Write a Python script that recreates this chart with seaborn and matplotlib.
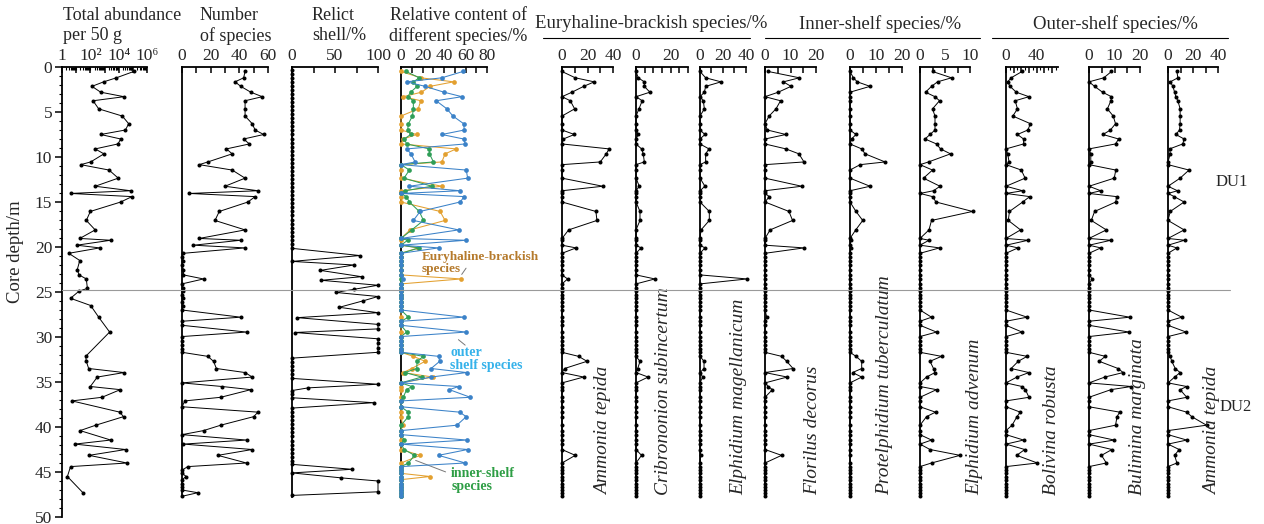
import numpy as np
import pandas as pd
import matplotlib
matplotlib.use("Agg")
import matplotlib.pyplot as plt
import seaborn as sns
from matplotlib.lines import Line2D
from matplotlib.transforms import blended_transform_factory
from matplotlib.ticker import FixedLocator, LogLocator, NullFormatter

# ---------------- data ----------------
sample_depth = [0.5, 1.2, 1.65, 2.15, 2.8, 3.3, 3.75, 4.65, 5.45, 6.3,
                7.0, 7.5, 8.0, 8.55, 9.1, 9.65, 10.55, 10.85, 11.45, 12.35,
                13.25, 13.75, 14.05, 14.4, 15.0, 16.05, 17.05, 18.1, 19.05, 19.25,
                19.8, 20.1, 20.7, 21.5, 22.5, 23.1, 23.55, 24.6, 24.9, 25.7,
                26.5, 27.8, 29.45, 32.15, 32.7, 33.5, 33.95, 34.45, 35.5, 35.85,
                36.7, 37.1, 38.35, 38.85, 39.8, 40.4, 41.45, 41.9, 42.5, 43.15,
                44.0, 44.4, 45.5, 47.3]

barren_depth = [21.1, 22.0, 24.1, 25.3, 26.1, 27.0, 28.25, 28.7, 29.95, 30.4,
                30.85, 31.3, 31.7, 35.1, 37.75, 40.85, 44.8, 45.15, 45.85, 46.3,
                46.7, 47.0, 47.7]

abundance = [115000, 6900, 870, 130, 540, 24000, 155, 390, 18000, 51000,
             30000, 540, 14000, 8900, 220, 910, 105, 21, 2100, 9300,
             220, 71000, 4, 87000, 14000, 100, 52, 220, 18, 2750,
             11, 460, 3, 18, 12, 16, 52, 62, 16, 4,
             105, 390, 2300, 47, 52, 76, 24000, 310, 100, 13000,
             660, 5, 12000, 22000, 240, 19, 2750, 8, 31000, 81,
             39000, 4, 2.4, 30]

n_species = [44, 43, 37, 41, 48, 56, 44, 44, 44, 49,
             51, 57, 43, 47, 31, 35, 18, 12, 35, 44,
             30, 53, 5, 51, 46, 26, 23, 44, 12, 41,
             8, 44, 1, 1, 1, 1, 15, 1, 1, 1,
             1, 41, 45, 18, 22, 24, 44, 49, 28, 48,
             27, 2, 53, 50, 27, 15, 45, 1, 49, 25,
             45, 4, 3, 11]

relict_depth = [0.3, 0.75, 1.2, 1.65, 2.1, 2.55, 3.0, 3.45, 3.9, 4.35,
                4.8, 5.25, 5.7, 6.15, 6.6, 7.05, 7.5, 7.95, 8.4, 8.85,
                9.3, 9.75, 10.2, 10.65, 11.1, 11.55, 12.0, 12.45, 12.9, 13.35,
                13.8, 14.25, 14.7, 15.15, 15.6, 16.05, 16.5, 16.95, 17.4, 17.85,
                18.3, 18.75, 19.2, 19.65, 20.15, 20.95, 21.6, 22.0, 22.6, 23.3,
                23.7, 24.25, 24.7, 25.05, 25.5, 26.0, 26.7, 27.3, 27.85, 28.6,
                29.1, 29.5, 30.2, 30.7, 31.2, 31.7, 32.35, 32.8, 33.25, 33.7,
                34.15, 34.6, 35.25, 35.65, 35.95, 36.35, 36.75, 37.3, 37.9, 38.35,
                38.8, 39.25, 39.7, 40.15, 40.6, 41.05, 41.5, 41.95, 42.4, 42.85,
                43.3, 43.75, 44.15, 44.7, 45.1, 45.65, 46.0, 47.2, 47.6]
relict_pct = [0, 0, 0, 0, 0, 0, 0, 0, 0, 0,
              0, 0, 0, 0, 0, 0, 0, 0, 0, 0,
              0, 0, 0, 0, 0, 0, 0, 0, 0, 0,
              0, 0, 0, 0, 0, 0, 0, 0, 0, 0,
              0, 0, 0, 0, 0, 79, 0, 72, 33, 81,
              34, 100, 72, 51, 100, 82, 55, 100, 6, 100,
              100, 3, 100, 100, 100, 100, 0, 0, 0, 0,
              0, 0, 100, 19, 0, 0, 0, 95, 0, 0,
              0, 0, 0, 0, 0, 0, 0, 0, 0, 0,
              0, 0, 0, 70, 0, 57, 100, 100, 0]

# relative content of groups (%)
outer_pct = [57.6, 38, 5.3, 22.4, 40, 56.7, 32.7, 42.7, 48.3, 58.3,
             58.9, 38, 58.3, 59.8, 5.3, 9.3, 13.1, 0, 60.7, 62,
             7.5, 55, 0, 58.9, 55, 17.8, 11.5, 53.6, 0, 60.4,
             0, 34.9, 0,
             0, 0, 0, 2, 0, 0, 0, 0, 58.3, 60.7,
             35, 36, 28, 61, 28, 53.6, 45, 64.5, 0, 54.5,
             60.7, 52, 0, 61.4, 0, 62, 34.9, 59.8, 0, 0,
             0]
eury_pct = [0, 18.4, 49, 27, 19, 2, 18.4, 16, 0, 0,
            0, 14.6, 2, 0, 51.4, 41, 38, 0, 0, 0,
            38, 0, 0, 0, 0, 36.4, 41, 8.4, 0, 0,
            0, 16, 0,
            0, 0, 0, 56, 0, 0, 0, 0, 0, 0,
            11.5, 22.4, 10, 2, 29.6, 0, 0, 0, 0, 0,
            0, 1.6, 0, 0, 0, 0, 17.8, 0, 0, 27,
            0]
inner_pct = [4.7, 17, 11.5, 15, 9, 6.2, 11.5, 11.5, 10.6, 6.9,
             6.2, 9, 3, 5.3, 26.5, 26.5, 30.2, 0, 7.8, 2.8,
             28.7, 4, 0, 5, 7.8, 17, 20.9, 10, 0, 6.2,
             0, 17, 0,
             0, 0, 0, 0, 0, 0, 0, 0, 6.9, 5.3,
             20.9, 15, 14.6, 3.7, 19.3, 10, 5.3, 2, 0, 6.9,
             6.9, 0, 0, 3, 0, 3, 12.5, 6.9, 0, 0,
             0]

# species (%)
ammonia_tepida_eb = [0, 10.4, 25.3, 17, 7.8, 0, 6.5, 9.9, 0, 0,
                     0, 9.7, 1, 0, 37, 34.7, 30, 0, 0, 0,
                     32, 0, 0, 0, 0, 26.6, 27.4, 5.2, 0, 0,
                     0, 11, 0,
                     0, 0, 0, 4.4, 0, 0, 0, 0, 0, 0,
                     13, 19.6, 2, 0, 17, 0, 0, 0, 0, 0,
                     0, 0, 0, 0, 0, 0, 10.4, 0, 0, 0,
                     0]
cribrononion = [0, 1.3, 4.8, 4.8, 8, 0, 3.6, 1.7, 0, 0,
                0, 1.3, 0, 0, 3.2, 4.2, 4.8, 0, 0, 0,
                1.9, 0, 0, 0, 0, 2.3, 2.3, 0, 0, 0,
                0, 2.9, 0,
                0, 0, 0, 10.9, 0, 0, 0, 0, 0, 0,
                0, 2.3, 1, 0, 7, 0, 0, 0, 0, 0,
                0, 0, 0, 0, 0, 0, 3.2, 0, 0, 0,
                0]
elphidium_magellanicum = [0, 4.9, 18.3, 4.9, 3.8, 0, 2.9, 3.8, 0, 0,
                          0, 4.3, 0, 0, 7.8, 4.9, 4.9, 0, 0, 0,
                          4.3, 0, 0, 0, 0, 8.1, 8.1, 0.9, 0, 0,
                          0, 4.3, 0,
                          0, 0, 0, 41, 0, 0, 0, 0, 0, 0,
                          0, 3.5, 3.5, 0, 2.3, 0, 0, 0, 0, 0,
                          0, 0, 0, 0, 0, 0, 0.6, 0, 0, 0,
                          0]
florilus = [1.3, 13.5, 7.2, 10.2, 5.2, 0, 6.1, 4.3, 1.6, 0,
            0.9, 8.2, 0, 0, 8.2, 13.3, 15.3, 0, 0, 0,
            14.4, 0, 0, 1.7, 0, 9.4, 10.8, 2, 0, 0,
            0, 15.3, 0,
            0, 0, 0, 0, 0, 0, 0, 0, 0.7, 0,
            6.5, 8.5, 11, 0, 8.7, 1.3, 2.9, 0, 0, 0,
            0, 0, 0, 0, 0, 0, 6.5, 0, 0, 0,
            0]
protelphidium = [0, 1.3, 2.8, 7.7, 0, 0, 0, 0, 0, 0,
                 0, 2.3, 0.6, 0, 4.5, 5.8, 13.5, 3.9, 0, 0,
                 7.7, 0, 0, 0, 0, 2.3, 4.9, 2.2, 0, 0.4,
                 0, 0.4, 0,
                 0, 0, 0, 0, 0, 0, 0, 0, 0, 0,
                 2.3, 4.5, 4.5, 1, 4.5, 0, 0, 0, 0, 0,
                 0, 0, 0, 0, 0, 0, 0, 0, 0, 0,
                 0]
elphidium_advenum = [2.5, 6.3, 3.5, 2.3, 1.1, 3.0, 3.9, 2.5, 3.0, 3.0,
                     3.0, 2.0, 1.0, 3.3, 4.1, 6.1, 1.7, 0, 2.5, 0.7,
                     4.0, 2.7, 0, 2.5, 3.2, 10.5, 2.3, 1.8, 0, 1.8,
                     0, 3.9, 0,
                     0, 0, 0, 0, 0, 0, 0, 0, 2.3, 3.3,
                     4.3, 2.0, 2.7, 3.0, 1.3, 0, 3.3, 0, 0, 3.1,
                     1.3, 0, 0, 2.3, 0, 2.0, 8.0, 2.3, 0, 0,
                     0]
bolivina = [21, 6.7, 2.2, 5.3, 13.4, 30, 12, 15, 8.9, 32,
            28.5, 15, 23, 23, 0, 2.2, 4, 0, 20, 25,
            0, 21.8, 0, 31, 21.8, 4.5, 3, 19, 0, 29,
            0, 15.6, 0,
            0, 0, 0, 0, 0, 0, 0, 0, 27.6, 21,
            27.6, 16, 6.7, 30, 14.3, 21, 25.4, 30, 0, 18.7,
            14.3, 8, 0, 23, 0, 24.5, 14, 41, 0, 0,
            0]
bulimina = [8.8, 5.8, 0, 2.2, 5.3, 8.8, 8.6, 7.2, 9.5, 10.4,
            8.4, 5.5, 11.6, 10.4, 0, 0.7, 0.7, 0, 10.5, 9.9,
            0, 4.6, 0, 10.8, 10.5, 2.2, 0.9, 6.8, 0, 8.6,
            0, 4.6, 0,
            0, 0, 0, 1.3, 0, 0, 0, 0, 16, 15.7,
            6.4, 4, 11.4, 13.4, 6.2, 16.6, 8.6, 0, 0, 12,
            11, 10.4, 0, 9.9, 0, 9, 4.9, 6.8, 0, 0,
            0]
ammonia_tepida_os = [7.1, 7.9, 1.8, 3.9, 5.3, 6.3, 7.9, 9.7, 9.7, 9.7,
                     9.2, 6.3, 12.9, 11.8, 1.3, 1.8, 0, 0, 16.8, 9.7,
                     0, 7.6, 0, 5, 12.9, 1.8, 0, 12.9, 0, 13.2,
                     0, 7.1, 0,
                     0, 0, 0, 0, 0, 0, 0, 0, 11, 14.5,
                     1.8, 3, 5.8, 9.7, 5.3, 15, 9.7, 15, 0, 15,
                     19, 30.8, 0, 15, 0, 8.9, 5.3, 7.1, 0, 0,
                     0]

boundary_depth = 24.75

# ---------------- helpers ----------------
def table(values, zeros=True):
    d = list(sample_depth)
    v = list(values)
    if zeros:
        d += barren_depth
        v += [0.0] * len(barren_depth)
    return pd.DataFrame({"depth": d, "value": v}).sort_values("depth")


def draw(ax, df, color="black", ms=2.9, lw=0.7, z=3):
    sns.lineplot(data=df, x="value", y="depth", sort=False, estimator=None,
                 orient="y", ax=ax, color=color, lw=lw, marker="o",
                 markersize=ms, markeredgewidth=0, legend=False,
                 clip_on=False, zorder=z)


sns.set_theme(style="white")
plt.rcParams["font.family"] = ["Liberation Serif", "DejaVu Serif"]
plt.rcParams["axes.unicode_minus"] = False

W, H = 1264, 524
fig = plt.figure(figsize=(W / 100, H / 100), dpi=100)
fig.patch.set_facecolor("white")
Y0, Y1 = 67, 517


def add_ax(x0, x1):
    ax = fig.add_axes([x0 / W, (H - Y1) / H, (x1 - x0) / W, (Y1 - Y0) / H])
    ax.set_facecolor("none")
    return ax


def style(ax, first=False):
    ax.set_ylim(50, 0)
    ax.grid(False)
    ax.spines["right"].set_visible(False)
    ax.spines["bottom"].set_visible(False)
    ax.spines["top"].set_linewidth(1.3)
    ax.spines["left"].set_linewidth(1.3)
    ax.spines["top"].set_color("black")
    ax.spines["left"].set_color("black")
    ax.xaxis.set_ticks_position("top")
    ax.tick_params(axis="x", which="major", direction="in", top=True, bottom=False,
                   labeltop=True, labelbottom=False, length=4.5, width=1.1,
                   pad=2, labelsize=12.5, color="black")
    ax.tick_params(axis="x", which="minor", direction="in", top=True, bottom=False,
                   length=2.5, width=0.8, color="black")
    ax.set_xlabel("")
    ax.set_ylabel("")
    if first:
        ax.tick_params(axis="y", which="major", direction="out", left=True,
                       length=5, width=1.1, labelsize=12.5, pad=2, color="black")
        ax.tick_params(axis="y", which="minor", direction="out", left=True,
                       length=2.5, width=0.8, color="black")
        ax.set_yticks(np.arange(0, 51, 5))
        ax.yaxis.set_minor_locator(FixedLocator(np.arange(0, 51, 1)))
    else:
        ax.tick_params(axis="y", which="both", left=False, labelleft=False)
        ax.spines["left"].set_bounds(0, 47.8)


# ---------------- panel 1: abundance ----------------
ax1 = add_ax(62, 147)
ax1.set_xscale("log")
draw(ax1, table(abundance, zeros=False))
ax1.set_xlim(1, 1e6)
style(ax1, first=True)
ax1.xaxis.set_major_locator(FixedLocator([1, 1e1, 1e2, 1e3, 1e4, 1e5, 1e6]))
ax1.set_xticklabels(["1", "", "10\u00b2", "", "10\u2074", "", "10\u2076"])
ax1.xaxis.set_minor_locator(LogLocator(base=10, subs=np.arange(2, 10), numticks=30))
ax1.xaxis.set_minor_formatter(NullFormatter())

# ---------------- panel 2: species number ----------------
ax2 = add_ax(182, 268)
draw(ax2, table(n_species))
ax2.set_xlim(0, 60)
style(ax2)
ax2.set_xticks(np.arange(0, 61, 10), ["0", "", "20", "", "40", "", "60"])

# ---------------- panel 3: relict shell ----------------
ax3 = add_ax(292, 378)
draw(ax3, pd.DataFrame({"depth": relict_depth, "value": relict_pct}))
ax3.set_xlim(0, 100)
style(ax3)
ax3.set_xticks([0, 25, 50, 75, 100], ["0", "", "50", "", "100"])

# ---------------- panel 4: relative content ----------------
ax4 = add_ax(401, 487)
c_eury, c_inner, c_outer = "#e3a02f", "#2f9e57", "#3b82c8"
draw(ax4, table(eury_pct), color=c_eury, ms=3.4, lw=0.75, z=3)
draw(ax4, table(inner_pct), color=c_inner, ms=3.4, lw=0.75, z=4)
draw(ax4, table(outer_pct), color=c_outer, ms=3.4, lw=0.75, z=5)
ax4.set_xlim(0, 80)
style(ax4)
ax4.set_xticks(np.arange(0, 81, 10), ["0", "", "20", "", "40", "", "60", "", "80"])

ax4.text(19.6, 21.8, "Euryhaline-brackish\nspecies", color="#b57a2c", fontsize=9.5,
         fontweight="bold", ha="left", va="center", linespacing=1.0, zorder=6)
ax4.annotate("", xy=(55, 23.3), xytext=(62, 22.1),
             arrowprops=dict(arrowstyle="-", color="#777777", lw=0.7), annotation_clip=False)
ax4.text(45.8, 32.5, "outer\nshelf species", color="#35b2ea", fontsize=10,
         fontweight="bold", ha="left", va="center", linespacing=1.0, zorder=6)
ax4.annotate("", xy=(51.4, 30.1), xytext=(61.7, 31.1),
             arrowprops=dict(arrowstyle="-", color="#777777", lw=0.7), annotation_clip=False)
ax4.text(46.7, 45.9, "inner-shelf\nspecies", color="#2e9e45", fontsize=10,
         fontweight="bold", ha="left", va="center", linespacing=1.0, zorder=6)
ax4.annotate("", xy=(11.2, 43.6), xytext=(43.9, 45.1),
             arrowprops=dict(arrowstyle="-", color="#777777", lw=0.7), annotation_clip=False)

# ---------------- species panels ----------------
species_panels = [
    (562, 613, 40, ammonia_tepida_eb, np.arange(0, 41, 10), ["0", "", "20", "", "40"], None),
    (636, 688, 30, cribrononion, np.arange(0, 31, 5), ["0", "", "", "", "20", "", ""], None),
    (700, 746, 40, elphidium_magellanicum, np.arange(0, 41, 10), ["0", "", "20", "", "40"], None),
    (765, 816, 20, florilus, np.arange(0, 21, 5), ["0", "", "10", "", "20"], None),
    (850, 902, 20, protelphidium, np.arange(0, 21, 5), ["0", "", "10", "", "20"], None),
    (920, 970, 10, elphidium_advenum, np.arange(0, 10.1, 2.5), ["0", "", "5", "", "10"], None),
    (1006, 1058, 68, bolivina, np.arange(0, 61, 10), ["0", "", "", "", "40", "", ""], np.arange(5, 68, 10)),
    (1089, 1140, 20, bulimina, np.arange(0, 21, 5), ["0", "", "10", "", "20"], None),
    (1168, 1218, 40, ammonia_tepida_os, np.arange(0, 41, 10), ["0", "", "20", "", "40"], None),
]
for x0, x1, xmax, vals, ticks, labels, minor in species_panels:
    ax = add_ax(x0, x1)
    draw(ax, table(vals))
    ax.set_xlim(0, xmax)
    style(ax)
    ax.set_xticks(ticks, labels)
    if minor is not None:
        ax.xaxis.set_minor_locator(FixedLocator(minor))

species_names = [("Ammonia tepida", 604), ("Cribrononion subincertum", 663),
                 ("Elphidium magellanicum", 739), ("Florilus decorus", 813),
                 ("Protelphidium tuberculatum", 885), ("Elphidium advenum", 975),
                 ("Bolivina robusta", 1051), ("Bulimina marginata", 1137),
                 ("Ammonia tepida", 1213)]
for name, xp in species_names:
    fig.text(xp / W, 1 - 495 / H, name, rotation=90, rotation_mode="anchor",
             ha="left", va="center", fontsize=14, style="italic")

# ---------------- headers ----------------
def ftxt(x, y, s, ha="left", size=13):
    fig.text(x / W, 1 - y / H, s, ha=ha, va="center", fontsize=size)

ftxt(63, 15, "Total abundance")
ftxt(63, 36, "per 50 g")
ftxt(200, 15, "Number")
ftxt(200, 36, "of species")
ftxt(312, 15, "Relict")
ftxt(312, 36, "shell/%")
ftxt(458, 15, "Relative content of", ha="center")
ftxt(458, 36, "different species/%", ha="center")

groups = [("Euryhaline-brackish species/%", 651, 543, 750),
          ("Inner-shelf species/%", 880, 765, 980),
          ("Outer-shelf species/%", 1115, 992, 1228)]
for s, xc, l0, l1 in groups:
    ftxt(xc, 24, s, ha="center", size=13.5)
    fig.add_artist(Line2D([l0 / W, l1 / W], [1 - 38 / H, 1 - 38 / H],
                          transform=fig.transFigure, color="black", lw=0.8))

fig.text(15 / W, 1 - 252 / H, "Core depth/m", rotation=90, ha="center",
         va="center", fontsize=13.5)

# boundary line and units
btr = blended_transform_factory(fig.transFigure, ax1.transData)
fig.add_artist(Line2D([62 / W, 1230 / W], [boundary_depth, boundary_depth],
                      transform=btr, color="#9a9a9a", lw=0.8, zorder=10))
fig.text(1232 / W, 12.8, "DU1", transform=btr, ha="center", va="center", fontsize=12)
fig.text(1236 / W, 37.8, "DU2", transform=btr, ha="center", va="center", fontsize=12)

fig.savefig("out.png", dpi=100)
